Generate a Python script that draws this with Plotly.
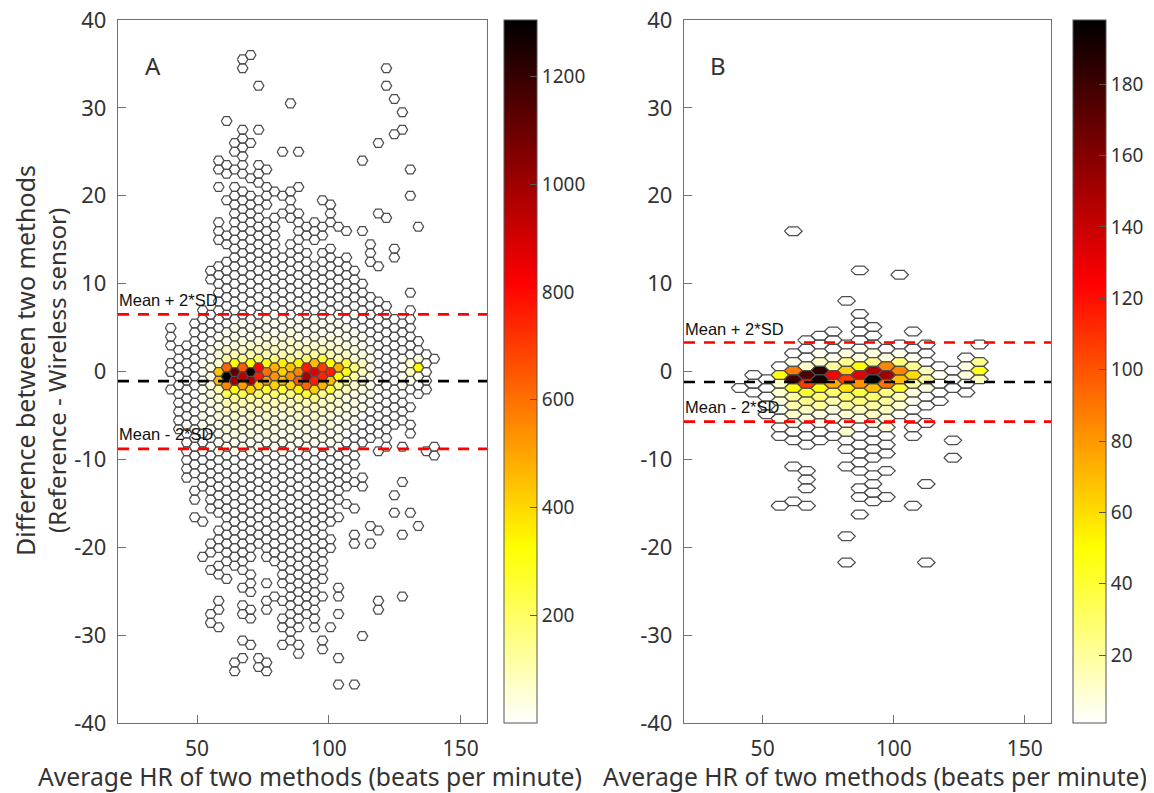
import plotly.graph_objects as go

W, H = 1154, 793
OFF = 8                 # the page's own body margin
FW, FH = W-OFF, H-OFF

# ---- Panel A: occupied bins, column index -> rows (a tuple is an inclusive run of rows)
a_rows = [
 [5,4,3,1,0,-2],
 [(2.5,-6.5)],
 [(3,-12)],
 [(5.5,-11.5),-13.5,-14.5,-16.5],
 [(7,-13),-17,-21],
 [11.5,10.5,(6.5,-15.5),-19.5,-20.5,-22.5,-27.5,-28.5],
 [24,23,21,17,16,15,(12,-16),-18,-19,-20,-22,-23,-26,-27,-29],
 [28.5,23.5,22.5,19.5,15.5,14.5,(12.5,-21.5),-23.5],
 [26,25,23,(21,-22),-33,-34],
 [35.5,34.5,(27.5,22.5),(20.5,-22.5),-24.5,-26.5,-27.5,-30.5,-32.5],
 [36,26,22,(20,-21),-23,-24,-25,-27,-28,-31],
 [32.5,27.5,(23.5,21.5),(19.5,-19.5),-32.5,-33.5],
 [23,(21,19),(17,-21),-24,-26,-27,-33,-34],
 [20.5,(17.5,-21.5),-25.5],
 [25,20,18,(13,-24),-26,-28,-29,-31],
 [30.5,(20.5,17.5),(14.5,-30.5)],
 [25,21,(18,-29),-31,-32],
 [(16.5,15.5),(13.5,-27.5)],
 [(17,15),(12,-29)],
 [19.5,(16.5,15.5),(13.5,-23.5),-25.5,-30.5,-31.5],
 [(19,17),(14,-17),-19,-20,-29],
 [16.5,(12.5,-14.5),-16.5,-24.5,-25.5,-27.5,-32.5,-35.5],
 [16,(13,-13),-15],
 [(11.5,-10.5),-12.5,-15.5,-18.5,-19.5,-35.5],
 [24,16,(10,-8),-12,-13,-30],
 [(14.5,12.5),(8.5,-7.5),-17.5,-19.5],
 [26,18,12,(8,-7),-9,-18,-26,-27],
 [34.5,32.5,17.5,(7.5,-8.5)],
 [31,27,14,13,(6,-6),-14,-16],
 [29.5,27.5,(5.5,-5.5),-8.5,-12.5,-18.5,-25.5],
 [23,20,9,(7,-2),-4,-6,-7,-16],
 [16.5,(3.5,-2.5),-17.5],
 [(2,-2),-9],
 [1.5,-8.5,-9.5],
]
# Counts that differ from the near-white background: column, top row, counts going down
a_heat_cols = [4,5,6,7,8,9,10,11,12,13,14,15,16,17,18,19,20,21,22,23,24,25,29,30,31]
a_heat_tops = [3,4.5,5,5.5,6,5.5,6,5.5,6,5.5,6,5.5,6,5.5,6,5.5,6,5.5,6,5.5,5,3.5,1.5,2,1.5]
a_heat_counts = [
 [6,10,12,18,25,25,22,18,15,12,10,6],
 [6,10,15,22,32,45,45,38,32,25,18,15,10,6],
 [6,12,18,35,70,430,450,100,70,50,38,30,25,18,12],
 [8,15,30,55,130,620,1300,560,230,110,70,50,38,25,18],
 [8,18,30,50,100,330,1100,1000,300,140,90,55,42,35,30,18,8],
 [12,25,42,70,150,640,930,520,220,110,70,50,38,30,18],
 [8,18,30,55,110,320,1250,950,400,150,90,60,42,35,25,15,8],
 [15,25,42,75,190,800,760,400,190,100,65,50,38,30,18],
 [12,18,38,55,110,300,600,520,260,130,75,55,42,35,22,12,6],
 [18,30,50,85,160,470,530,400,190,95,65,50,38,25,18],
 [15,25,42,70,110,340,400,430,240,120,70,50,40,30,18,12,6],
 [18,35,55,85,150,430,540,410,170,90,65,45,35,25,15],
 [15,25,42,65,100,340,560,640,340,135,75,55,38,28,18,10,6],
 [18,30,50,85,190,750,950,620,260,110,65,48,32,22,12],
 [15,25,42,70,125,440,850,760,400,155,85,55,38,25,18,10,6],
 [15,30,50,85,250,700,740,470,150,85,55,38,28,18,10],
 [12,18,35,55,100,300,760,450,240,105,65,45,32,22,15,6,3],
 [12,22,38,65,110,460,330,170,80,55,40,28,18,12,6],
 [6,12,25,45,80,250,300,140,85,50,35,25,15,10,6],
 [6,12,25,38,65,170,120,65,45,32,22,12,6],
 [6,12,25,45,85,80,60,38,25,15,10,6],
 [6,12,25,38,38,28,18,12,6],
 [12,25,25,12],
 [10,60,90,20],
 [35,330,28],
]

# ---- Panel B
b_rows = [
 [-2],
 [-0.5,-1.5,-2.5],
 [(-1,-5)],
 [(0.5,-7.5),-15.5],
 [16,(2,-8),-11,-15],
 [(3.5,-8.5),-11.5,-12.5,-13.5,-15.5],
 [(4,-8)],
 [(4.5,-7.5)],
 [8,(3,-9),-11,-19,-22],
 [11.5,(6.5,-11.5),-13.5,-14.5,-16.5],
 [(5,-10),-12,-13,-14,-15],
 [(2.5,-9.5),-11.5,-14.5],
 [11,(3,-5)],
 [4.5,(2.5,-7.5),-15.5],
 [(3,-4),-6,-13,-22],
 [(0.5,-3.5)],
 [(0,-2),-8,-10],
 [(1.5,-2.5)],
 [3,1,0,-1],
]
b_heat_cols = [3,4,5,6,7,8,9,10,11,12,13,14,15,17,18]
b_heat_tops = [0.5,2,1.5,2,1.5,2,2.5,2,2.5,2,1.5,1,0.5,1.5,1]
b_heat_counts = [
 [2,48,10,9,8,5,3],
 [2,4,88,175,46,20,15,9,3],
 [2,10,172,105,40,22,13,6,2],
 [5,10,182,190,48,28,20,8,4],
 [3,20,125,75,28,16,8,3],
 [6,22,62,105,55,28,18,10,5,10],
 [3,8,50,130,80,38,26,14,6],
 [8,24,145,197,70,30,20,12,6],
 [2,6,85,150,90,26,20,14,8,8],
 [5,26,85,70,40,16,10,5],
 [3,24,58,18,6,4],
 [2,14,18,6,2],
 [2,4],
 [2,7,7],
 [24,45,14],
]

a_cmin, a_cmax = 1, 1304
b_cmin, b_cmax = 1, 198
a_ticks = [200,400,600,800,1000,1200]
b_ticks = [20,40,60,80,100,120,140,160,180]
x_ticks = [50,100,150]
y_ticks = [-40,-30,-20,-10,0,10,20,30,40]

a_mean, a_up, a_lo = -1.1, 6.5, -8.8
b_mean, b_up, b_lo = -1.2, 3.3, -5.7

HOT = [[0,'#ffffff'],[0.25,'#ffff00'],[0.625,'#ff0000'],[1,'#000000']]
LEVELS = 64
TXT = '#333333'
FONT = 'Noto Sans'

def px(x):
    return (x-OFF)/FW
def py(y):
    return 1-(y-OFF)/FH

def rgb(t):
    t = max(0, min(1, t))
    if t < .25:
        return (255, 255, round(255*(1-t/.25)))
    if t < .625:
        return (255, round(255*(1-(t-.25)/.375)), 0)
    return (round(255*(1-(t-.625)/.375)), 0, 0)

def expand(spec):
    out = []
    for s in spec:
        if isinstance(s, tuple):
            v = s[0]
            while v >= s[1]:
                out.append(v)
                v -= 1
        else:
            out.append(s)
    return out

def add_panel(fig, rows, hc, ht, hv, cmin, cmax, x0, dx, y0, dy, xa, ya, cbx, ticks):
    heat = {}
    for c, top, vals in zip(hc, ht, hv):
        for k, v in enumerate(vals):
            heat[(c, top-k)] = v
    a = dx*2/3
    groups = {}
    for c, spec in enumerate(rows):
        for n in expand(spec):
            v = heat.get((c, n), cmin)
            t = (v-cmin)/(cmax-cmin)
            lvl = min(LEVELS-1, int(t*LEVELS+0.5))
            cx, cy = x0+dx*c, y0+dy*n
            g = groups.setdefault(lvl, ([], []))
            g[0].extend([cx-a, cx-a/2, cx+a/2, cx+a, cx+a/2, cx-a/2, cx-a, None])
            g[1].extend([cy, cy+.5*dy, cy+.5*dy, cy, cy-.5*dy, cy-.5*dy, cy, None])
    for lvl in sorted(groups):
        r, g, b = rgb(lvl/(LEVELS-1))
        fig.add_trace(go.Scatter(x=groups[lvl][0], y=groups[lvl][1], mode='lines', fill='toself',
                                 fillcolor=f'rgb({r},{g},{b})',
                                 line=dict(color='#4d4d4d', width=1.25),
                                 hoverinfo='skip', showlegend=False, xaxis=xa, yaxis=ya))
    fig.add_trace(go.Scatter(x=[None], y=[None], mode='markers', showlegend=False, xaxis=xa, yaxis=ya,
        marker=dict(color=[cmin, cmax], cmin=cmin, cmax=cmax, colorscale=HOT, showscale=True,
            colorbar=dict(x=px(cbx), xanchor='left', xpad=0, ypad=0, thickness=33, thicknessmode='pixels',
                y=py(371.5), yanchor='middle', len=703/FH, lenmode='fraction',
                outlinecolor='#555555', outlinewidth=1, ticks='inside', ticklen=7, tickcolor='#555555',
                tickvals=ticks, tickprefix='\u2009', tickfont=dict(family=FONT, size=19, color=TXT)))))

def add_lines(fig, up, mean, lo, xa, ya):
    for y, col in ((up, '#ff0000'), (mean, '#000000'), (lo, '#ff0000')):
        fig.add_trace(go.Scatter(x=[20, 160], y=[y, y], mode='lines', showlegend=False, hoverinfo='skip',
                                 line=dict(color=col, width=2.6, dash='11px,9px'), xaxis=xa, yaxis=ya))

fig = go.Figure()
add_panel(fig, a_rows, a_heat_cols, a_heat_tops, a_heat_counts, a_cmin, a_cmax, 40, 3.03, -0.05, 1.002, 'x', 'y', 504, a_ticks)
add_lines(fig, a_up, a_mean, a_lo, 'x', 'y')
add_panel(fig, b_rows, b_heat_cols, b_heat_tops, b_heat_counts, b_cmin, b_cmax, 41.4, 5.07, 0.1, 0.992, 'x2', 'y2', 1073, b_ticks)
add_lines(fig, b_up, b_mean, b_lo, 'x2', 'y2')

AXC = '#707070'
ax = dict(range=[20,160], tickvals=x_ticks, ticks='inside', ticklen=8, tickcolor=AXC, showline=True, mirror=True,
          linecolor=AXC, linewidth=1.3, showgrid=False, zeroline=False, ticklabelstandoff=7, ticklabeloverflow='allow',
          tickfont=dict(family=FONT, size=21, color=TXT))
ay = dict(range=[-40,40], tickvals=y_ticks, ticktext=[str(v) for v in y_ticks], ticks='inside', ticklen=8, tickcolor=AXC,
          showline=True, mirror=True, linecolor=AXC, linewidth=1.3, showgrid=False, zeroline=False, ticklabelstandoff=6,
          ticklabeloverflow='allow', tickfont=dict(family=FONT, size=22, color=TXT))
ydom = [py(723), py(20)]

notes = []
def note(text, x, y, xref, yref, size, family=FONT, angle=0, xanchor='center', color=TXT, xshift=0):
    notes.append(dict(text=text, x=x, y=y, xref=xref, yref=yref, showarrow=False, textangle=angle, xanchor=xanchor,
                      yanchor='middle', xshift=xshift, font=dict(family=family, size=size, color=color)))

note('Mean + 2*SD', 20, 8.1, 'x', 'y', 16.5, 'Liberation Sans', xanchor='left', color='#111111', xshift=-1)
note('Mean - 2*SD', 20, -7.1, 'x', 'y', 16.5, 'Liberation Sans', xanchor='left', color='#111111', xshift=-1)
note('Mean + 2*SD', 20, 4.85, 'x2', 'y2', 16.5, 'Liberation Sans', xanchor='left', color='#111111', xshift=-1)
note('Mean - 2*SD', 20, -4.0, 'x2', 'y2', 16.5, 'Liberation Sans', xanchor='left', color='#111111', xshift=-1)
note('A', 33.3, 34.8, 'x', 'y', 24)
note('B', 33, 34.8, 'x2', 'y2', 24)
note('Average HR of two methods (beats per minute)', px(310), py(776), 'paper', 'paper', 24.7)
note('Average HR of two methods (beats per minute)', px(875), py(776), 'paper', 'paper', 24.7)
note('Difference between two methods', px(25), py(361), 'paper', 'paper', 25, angle=-90)
note('(Reference - Wireless sensor)', px(56), py(371), 'paper', 'paper', 24.1, angle=-90)

fig.update_layout(width=FW, height=FH, margin=dict(l=0, r=0, t=0, b=0, autoexpand=False), paper_bgcolor='white', plot_bgcolor='white',
    xaxis=dict(domain=[px(118), px(487)], anchor='y', **ax), yaxis=dict(domain=ydom, anchor='x', **ay),
    xaxis2=dict(domain=[px(684), px(1051)], anchor='y2', **ax), yaxis2=dict(domain=ydom, anchor='x2', **ay),
    annotations=notes, showlegend=False)
fig.write_html('out.html')
